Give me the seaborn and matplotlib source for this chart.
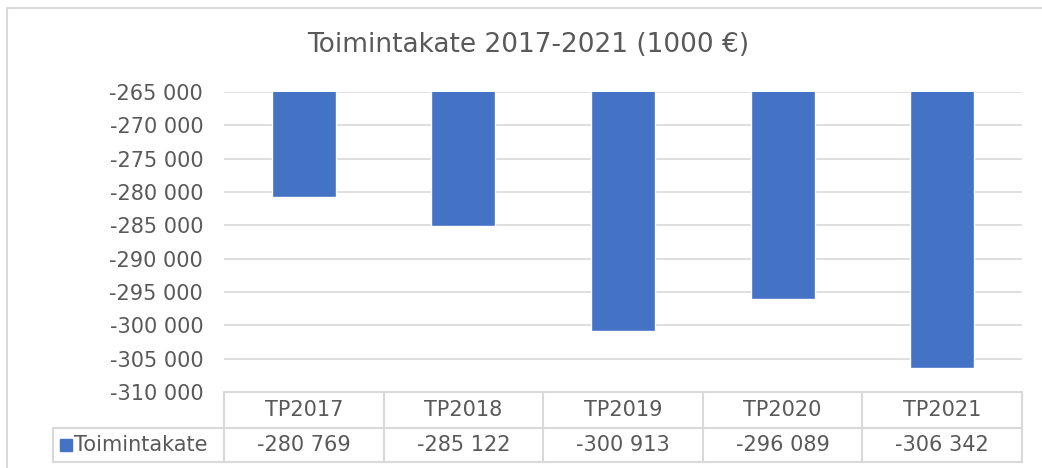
import matplotlib
matplotlib.use("Agg")
import matplotlib.pyplot as plt
import matplotlib.transforms as mtransforms
from matplotlib.patches import Rectangle
import seaborn as sns
import pandas as pd

categories = ["TP2017", "TP2018", "TP2019", "TP2020", "TP2021"]
values = [-280769, -285122, -300913, -296089, -306342]
series_name = "Toimintakate"
title = "Toimintakate 2017-2021 (1000 €)"
y_ticks = list(range(-310000, -264999, 5000))


def fmt(v):
    return f"{v:,}".replace(",", " ")


sns.set_theme(style="white")
plt.rcParams["font.family"] = ["DejaVu Sans"]

text_color = "#595959"
grid_color = "#d9d9d9"
bar_color = "#4472c4"
fs = 15

fig = plt.figure(figsize=(10.42, 4.68), dpi=100)
ax = fig.add_axes([224 / 1042, 1 - 392 / 468, 798 / 1042, 300 / 468])

df = pd.DataFrame({"cat": categories, "val": values})
sns.barplot(data=df, x="cat", y="val", color=bar_color, width=0.4,
            saturation=1, ax=ax, zorder=2)
ax.set_ylim(-310000, -265000)
ax.set_xlim(-0.5, len(categories) - 0.5)
ax.set_yticks(y_ticks)
ax.set_yticklabels([fmt(t) for t in y_ticks])
ax.tick_params(axis="y", length=0, pad=15, labelsize=fs, labelcolor=text_color)
ax.set_xticks([])
ax.set_xlabel("")
ax.set_ylabel("")
for s in ax.spines.values():
    s.set_visible(False)
ax.grid(axis="y", color=grid_color, lw=1.2)
ax.set_axisbelow(True)

# data table under the plot
tr = mtransforms.blended_transform_factory(ax.transData, ax.transAxes)
n = len(categories)
row1, row2 = -0.12, -0.233
left = -1.57
lkw = dict(color=grid_color, lw=1.5, transform=tr, clip_on=False)
ax.plot([-0.5, n - 0.5], [0, 0], **lkw)
ax.plot([left, n - 0.5], [row1, row1], **lkw)
ax.plot([left, n - 0.5], [row2, row2], **lkw)
for i in range(n + 1):
    ax.plot([i - 0.5, i - 0.5], [0, row2], **lkw)
ax.plot([left, left], [row1, row2], **lkw)

for i, (c, v) in enumerate(zip(categories, values)):
    ax.text(i, (0 + row1) / 2, c, transform=tr, ha="center", va="center",
            fontsize=fs, color=text_color)
    ax.text(i, (row1 + row2) / 2, fmt(v), transform=tr, ha="center",
            va="center", fontsize=fs, color=text_color)

ax.plot([-1.49], [(row1 + row2) / 2], marker="s", ms=8, color=bar_color,
        transform=tr, clip_on=False, ls="none")
ax.text(-1.44, (row1 + row2) / 2, series_name, transform=tr, ha="left",
        va="center", fontsize=fs, color=text_color)

fig.text(528 / 1042, 1 - 45 / 468, title, ha="center", va="center",
         fontsize=19, color=text_color)

fig.add_artist(Rectangle((7 / 1042, -0.1), 1.2, (1 - 8 / 468) + 0.1,
                         transform=fig.transFigure, fill=False,
                         ec=grid_color, lw=1.5))

fig.savefig("out.png", dpi=100)
